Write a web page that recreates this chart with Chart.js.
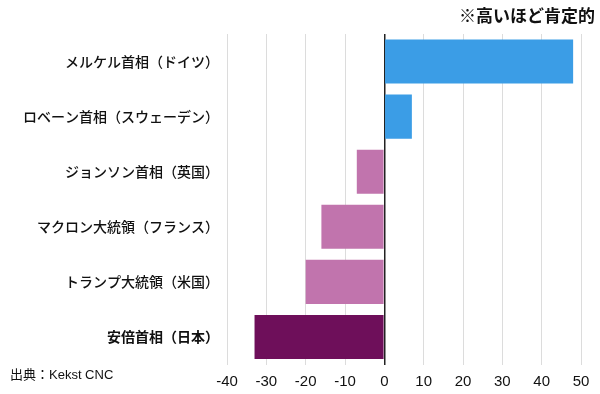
<!DOCTYPE html>
<html>
<head>
<meta charset="utf-8">
<script src="https://cdn.jsdelivr.net/npm/chart.js@4/dist/chart.umd.min.js"></script>
<style>
  html, body { margin: 0; padding: 0; background: #fff; }
  #wrap { width: 600px; height: 394px; }
</style>
</head>
<body>
<div id="wrap"><canvas id="leaderChart"></canvas></div>
<script>
// 首脳の評価（高いほど肯定的）
var leaders = ['メルケル首相（ドイツ）', 'ロベーン首相（スウェーデン）', 'ジョンソン首相（英国）',
               'マクロン大統領（フランス）', 'トランプ大統領（米国）', '安倍首相（日本）'];
var scores = [48, 7, -7, -16, -20, -33];
var barColors = ['#3b9de6', '#3b9de6', '#c174ad', '#c174ad', '#c174ad', '#6e0f5a'];
var xTicks = [-40, -30, -20, -10, 0, 10, 20, 30, 40, 50];

var jpFont = "'Noto Sans CJK JP', 'Noto Sans', sans-serif";
var latinFont = "'Liberation Sans', 'Noto Sans CJK JP', Arial, sans-serif";

// 注記と出典を描く
var notes = {
    id: 'notes',
    afterDraw: function(chart) {
        var c = chart.ctx;
        c.save();
        c.fillStyle = '#111';
        c.textBaseline = 'middle';
        c.font = 'bold 17px ' + jpFont;
        c.textAlign = 'right';
        c.fillText('※高いほど肯定的', 595, 16);
        c.font = '13px ' + latinFont;
        c.textAlign = 'left';
        c.fillText('出典：Kekst CNC', 10, 375);
        c.restore();
    }
};

var ctx = document.getElementById('leaderChart').getContext('2d');
var chart = new Chart(ctx, {
    type: 'bar',
    data: {
        labels: leaders,
        datasets: [{
            data: scores,
            backgroundColor: barColors,
            borderWidth: 0,
            barPercentage: 1,
            categoryPercentage: 0.8
        }]
    },
    options: {
        indexAxis: 'y',
        responsive: true,
        maintainAspectRatio: false,
        animation: false,
        layout: { padding: { left: 0, right: 19, top: 34, bottom: 0 } },
        plugins: {
            legend: { display: false },
            tooltip: { enabled: false }
        },
        scales: {
            x: {
                min: -40,
                max: 50,
                afterBuildTicks: function(scale) {
                    scale.ticks = xTicks.map(function(v) { return { value: v }; });
                },
                afterFit: function(scale) { scale.height = 29.5; },
                grid: {
                    drawTicks: false,
                    color: function(c) { return c.tick && c.tick.value === 0 ? '#222' : '#dcdcdc'; },
                    lineWidth: function(c) { return c.tick && c.tick.value === 0 ? 1.5 : 1; }
                },
                border: { display: false },
                ticks: {
                    padding: 8,
                    color: '#111',
                    font: { family: "'Liberation Sans', Arial, sans-serif", size: 15 }
                }
            },
            y: {
                afterFit: function(scale) { scale.width = 227; },
                grid: { display: false, drawTicks: false },
                border: { display: false },
                ticks: {
                    padding: 8,
                    color: '#111',
                    font: function(c) {
                        return { family: jpFont, size: 14, weight: c.index === 5 ? 'bold' : '500' };
                    }
                }
            }
        }
    },
    plugins: [notes]
});
</script>
</body>
</html>
